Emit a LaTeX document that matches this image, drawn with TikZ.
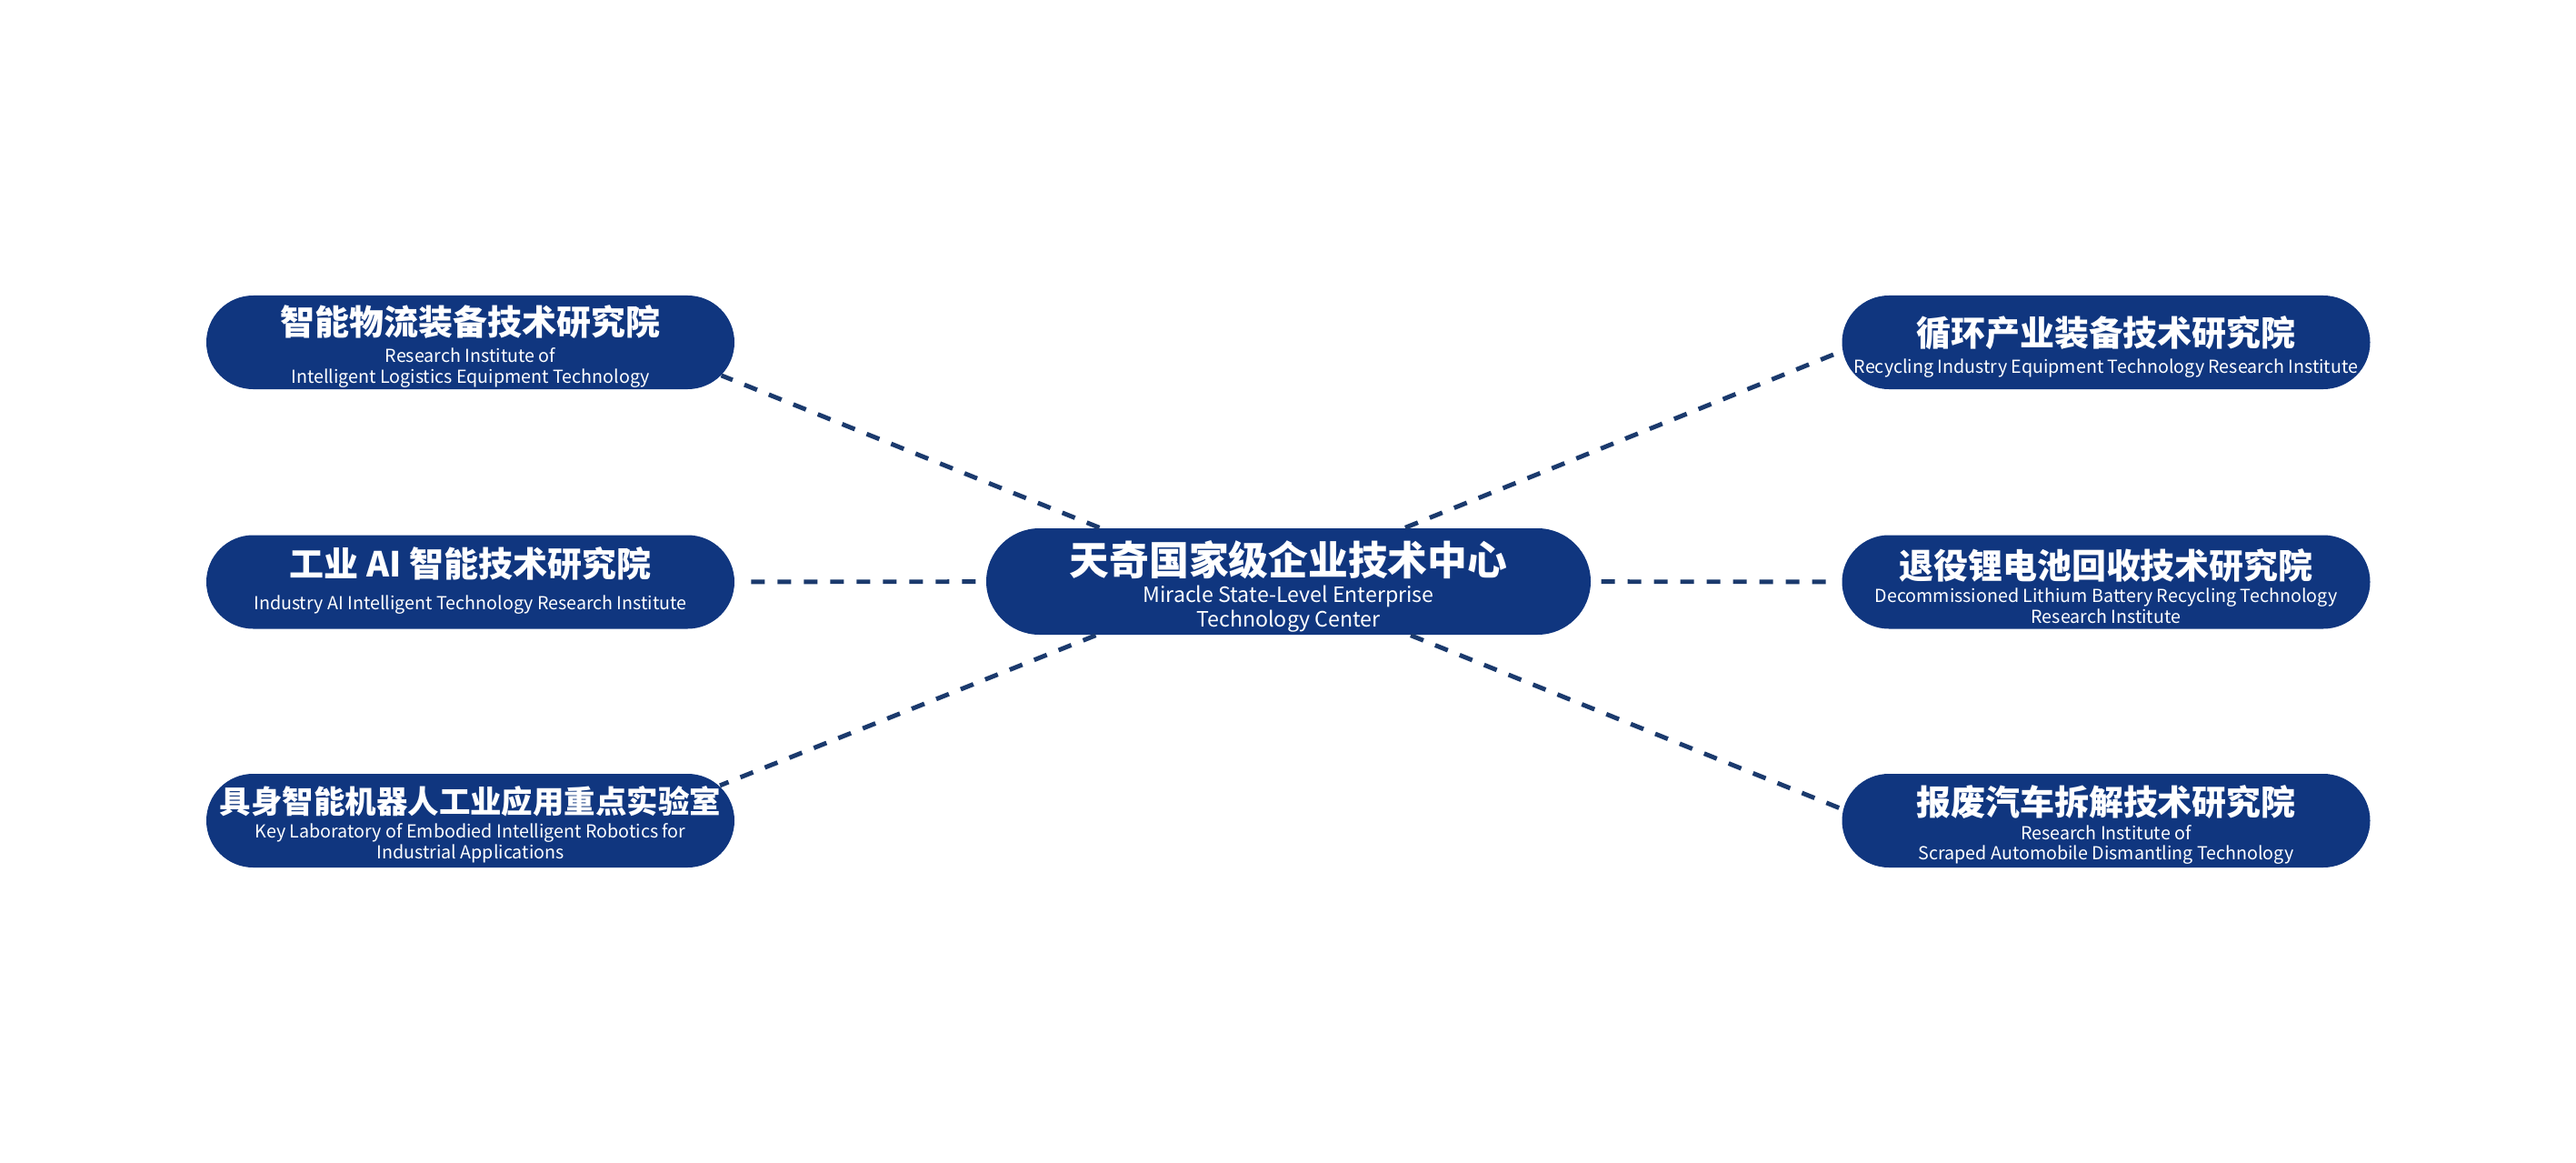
\documentclass[tikz,border=0pt]{standalone}
\usepackage{fontspec}
\setmainfont{Noto Sans CJK SC}
\definecolor{navy}{HTML}{10367F}
\definecolor{dashblue}{HTML}{1B3A6D}
\tikzstyle{inst} = [rectangle, rounded corners=0.515cm, fill=navy, text=white, align=center, minimum width=5.81cm, minimum height=1.03cm, inner sep=0pt, font=\fontsize{5.6}{6.5}\selectfont]
\tikzstyle{hub} = [inst, rounded corners=0.585cm, minimum width=6.65cm, minimum height=1.17cm, font=\fontsize{6.6}{6.6}\selectfont]
\tikzstyle{link} = [draw=dashblue, line width=1.4pt, dash pattern=on 0.15cm off 0.14cm]
\newcommand{\zh}[2][10.8]{{\fontsize{#1}{#1}\selectfont\bfseries\rule{0pt}{1.12em}#2}}

\begin{document}
\begin{tikzpicture}
  \useasboundingbox (0,0) rectangle (28.34,-12.79);
  \node (a) at (14.175,-6.395) [hub] {\zh[12.45]{天奇国家级企业技术中心}\\[2pt]Miracle State-Level Enterprise\\Technology Center};
  \node (b) at (5.175,-3.765) [inst] {\zh{智能物流装备技术研究院}\\[2pt]Research Institute of\\Intelligent Logistics Equipment Technology};
  \node (c) at (5.175,-6.40) [inst] {\zh{工业 AI 智能技术研究院}\\[4pt]Industry AI Intelligent Technology Research Institute\rule[-5pt]{0pt}{0pt}};
  \node (d) at (5.175,-9.025) [inst] {\zh[9.8]{具身智能机器人工业应用重点实验室}\\[1pt]Key Laboratory of Embodied Intelligent Robotics for\\Industrial Applications};
  \node (e) at (23.17,-3.765) [inst] {\zh{循环产业装备技术研究院}\\[2pt]Recycling Industry Equipment Technology Research Institute};
  \node (f) at (23.17,-6.40) [inst] {\zh{退役锂电池回收技术研究院}\\[1pt]Decommissioned Lithium Battery Recycling Technology\\Research Institute};
  \node (g) at (23.17,-9.025) [inst] {\zh{报废汽车拆解技术研究院}\\[1pt]Research Institute of\\Scraped Automobile Dismantling Technology};
  \draw [link] ([xshift=-2.08cm]a.north) to ([xshift=-0.515cm,shift={(-45:0.515)}]b.east);
  \draw [link, shorten <=0.11cm, shorten >=0.16cm] (a) to (c);
  \draw [link] ([xshift=-2.12cm]a.south) to ([xshift=-0.515cm,shift={(48:0.52)}]d.east);
  \draw [link] ([xshift=1.285cm]a.north) to ([xshift=0.515cm,shift={(191:0.53)}]e.west);
  \draw [link, shorten <=0.11cm, shorten >=0.16cm] (a) to (f);
  \draw [link] ([xshift=1.345cm]a.south) to ([xshift=0.515cm,shift={(166:0.52)}]g.west);
\end{tikzpicture}
\end{document}
